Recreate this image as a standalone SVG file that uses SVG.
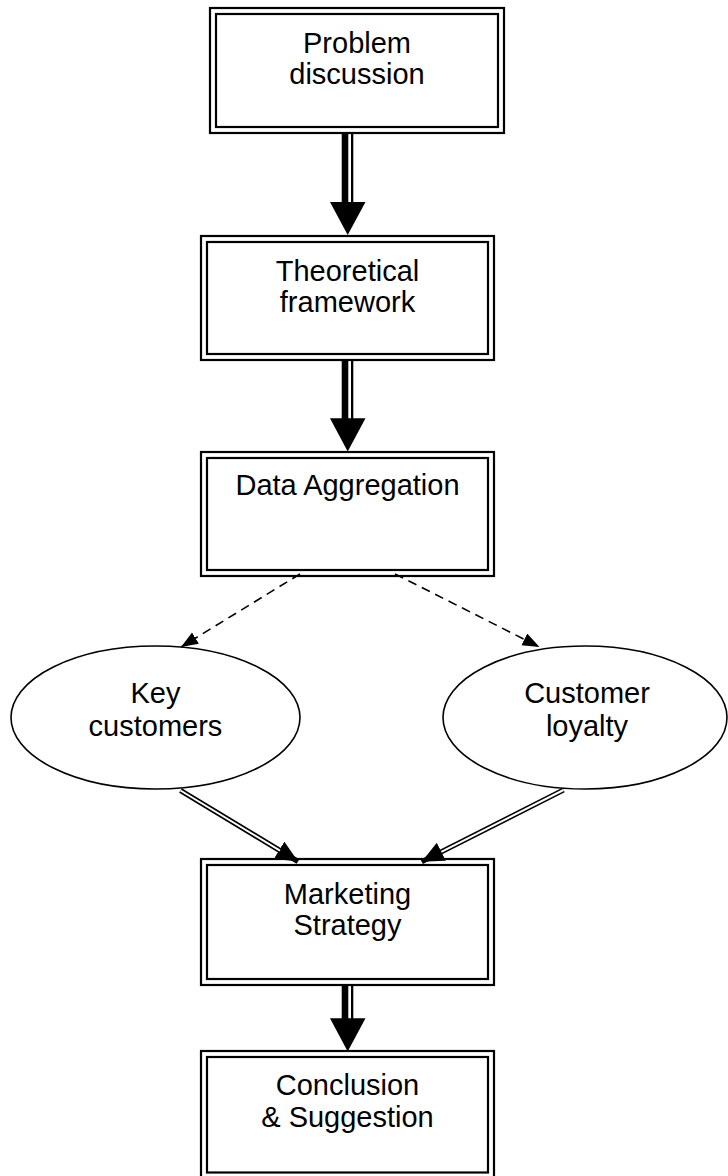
<svg xmlns="http://www.w3.org/2000/svg" width="728" height="1176" viewBox="0 0 728 1176">
  <style>
    .frame { fill: none; stroke: #000; stroke-width: 2.2; }
    .ell { fill: #fff; stroke: #000; stroke-width: 1.6; }
    .txt { font-family: "Liberation Sans", Arial, sans-serif; font-size: 29px; fill: #000; text-anchor: middle; }
    .dash { fill: none; stroke: #000; stroke-width: 1.6; stroke-dasharray: 9 6; }
    .dblo { fill: none; stroke: #000; stroke-width: 5.2; }
    .dbli { fill: none; stroke: #fff; stroke-width: 2; }
    .shaft { fill: #000; }
  </style>
  <defs>
    <marker id="headS" markerUnits="userSpaceOnUse" markerWidth="18" markerHeight="14" refX="17" refY="6.5" orient="auto">
      <path d="M0,0 L17,6.5 L0,13 z" fill="#000"/>
    </marker>
    <marker id="headD" markerUnits="userSpaceOnUse" markerWidth="23" markerHeight="21" refX="22" refY="10" orient="auto">
      <path d="M0,0 L22,10 L0,20 z" fill="#000"/>
    </marker>
  </defs>

  <g id="connectors">
    <!-- Problem discussion -> Theoretical framework -->
    <g id="c1">
      <rect class="shaft" x="341.7" y="134" width="6.6" height="69"/>
      <rect class="shaft" x="351" y="134" width="2.3" height="69"/>
      <polygon points="330,202 365.5,202 347.7,235" fill="#000"/>
    </g>
    <!-- Theoretical framework -> Data Aggregation -->
    <g id="c2">
      <rect class="shaft" x="341.7" y="361" width="6.6" height="58"/>
      <rect class="shaft" x="351" y="361" width="2.3" height="58"/>
      <polygon points="330,418.3 365.5,418.3 347.7,451.5" fill="#000"/>
    </g>
    <!-- Data Aggregation -> Key customers -->
    <path id="c3" class="dash" d="M300,574 L181,647" marker-end="url(#headS)"/>
    <!-- Data Aggregation -> Customer loyalty -->
    <path id="c4" class="dash" d="M395,574 L539.5,647" marker-end="url(#headS)"/>
    <!-- Key customers -> Marketing Strategy -->
    <g id="c5">
      <path class="dblo" d="M180.5,790.5 L298,861.5" marker-end="url(#headD)"/>
      <path class="dbli" d="M180.5,790.5 L280,850.6"/>
    </g>
    <!-- Customer loyalty -> Marketing Strategy -->
    <g id="c6">
      <path class="dblo" d="M563.5,790 L421.7,861.7" marker-end="url(#headD)"/>
      <path class="dbli" d="M563.5,790 L441.3,851.8"/>
    </g>
    <!-- Marketing Strategy -> Conclusion & Suggestion -->
    <g id="c7">
      <rect class="shaft" x="341.7" y="986" width="6.6" height="33"/>
      <rect class="shaft" x="351" y="986" width="2.3" height="33"/>
      <polygon points="330,1018.3 365.5,1018.3 347.7,1051.5" fill="#000"/>
    </g>
  </g>

  <g id="problem-discussion">
    <rect class="frame" x="210" y="8" width="294" height="125"/>
    <rect class="frame" x="216" y="14" width="282" height="113"/>
    <text class="txt" x="357" y="53">Problem</text>
    <text class="txt" x="357" y="84">discussion</text>
  </g>

  <g id="theoretical-framework">
    <rect class="frame" x="201" y="236" width="293" height="124"/>
    <rect class="frame" x="207" y="242" width="281" height="112"/>
    <text class="txt" x="347.5" y="281">Theoretical</text>
    <text class="txt" x="347.5" y="312">framework</text>
  </g>

  <g id="data-aggregation">
    <rect class="frame" x="201" y="452" width="293" height="124"/>
    <rect class="frame" x="207" y="458" width="281" height="112"/>
    <text class="txt" x="347.5" y="495">Data Aggregation</text>
  </g>

  <g id="key-customers">
    <ellipse class="ell" cx="155.5" cy="717.5" rx="144.5" ry="71.5"/>
    <text class="txt" x="155.5" y="703">Key</text>
    <text class="txt" x="155.5" y="736">customers</text>
  </g>

  <g id="customer-loyalty">
    <ellipse class="ell" cx="585" cy="717.5" rx="142" ry="71.5"/>
    <text class="txt" x="587" y="703">Customer</text>
    <text class="txt" x="587" y="736">loyalty</text>
  </g>

  <g id="marketing-strategy">
    <rect class="frame" x="201" y="859" width="293" height="126"/>
    <rect class="frame" x="207" y="865" width="281" height="114"/>
    <text class="txt" x="347.5" y="904">Marketing</text>
    <text class="txt" x="347.5" y="935">Strategy</text>
  </g>

  <g id="conclusion-suggestion">
    <rect class="frame" x="201" y="1051" width="293" height="127"/>
    <rect class="frame" x="207" y="1057" width="281" height="115.5"/>
    <text class="txt" x="347.5" y="1095">Conclusion</text>
    <text class="txt" x="347.5" y="1127">&amp; Suggestion</text>
  </g>
</svg>
